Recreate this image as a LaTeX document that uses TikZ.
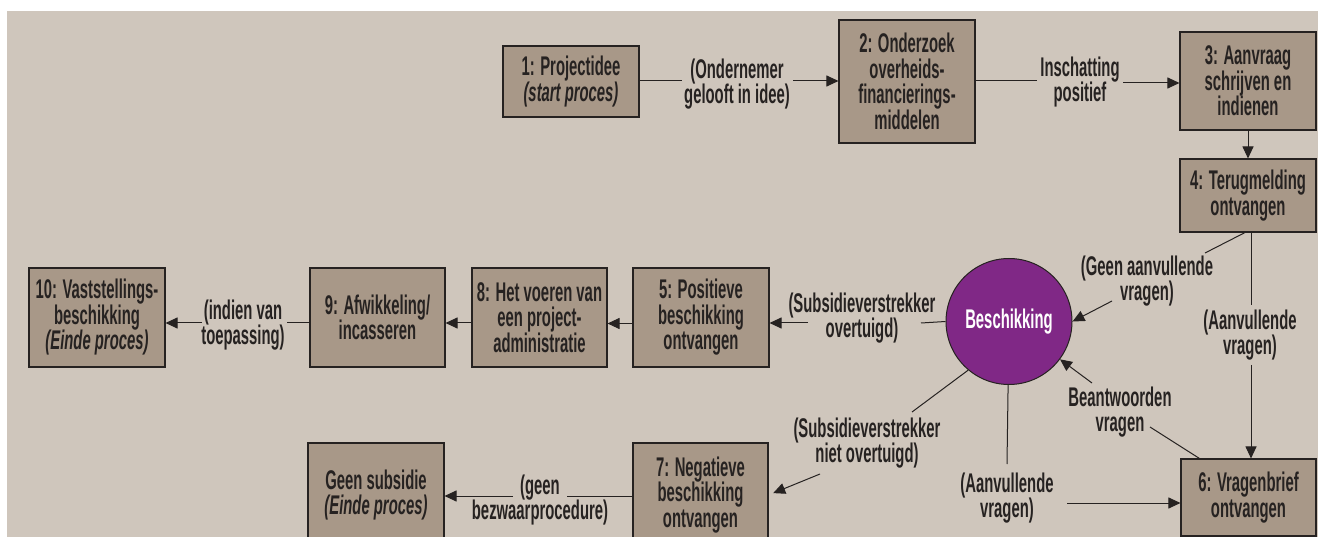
\documentclass[tikz,border=0pt]{standalone}
\usepackage{fontspec}
\setmainfont{Liberation Sans}[FakeStretch=0.55]
\usetikzlibrary{arrows.meta,calc}
\definecolor{bgc}{RGB}{207,198,188}
\definecolor{boxc}{RGB}{168,152,136}
\definecolor{circc}{RGB}{128,40,134}
\definecolor{ink}{RGB}{38,34,33}
\begin{document}
\begin{tikzpicture}[x=1pt,y=-1pt,
  font=\fontsize{27}{25.5}\selectfont\bfseries,
  box/.style={draw=ink, line width=1.1pt, fill=boxc, text=ink, align=center, minimum width=136pt, inner sep=0pt},
  lbl/.style={text=ink, align=center, inner sep=0pt},
  con/.style={draw=ink, line width=1pt},
  arr/.style={con, -{Triangle[length=12pt,width=11pt]}}]
\useasboundingbox (0,0) rectangle (1318,537);
\clip (0,0) rectangle (1318,537);
\fill[white] (0,0) rectangle (1318,537);
\fill[bgc] (7,11) rectangle (1318,537);

% boxes
\node[box, minimum height=71pt] (b1) at (571,81.5) {1: Projectidee\\\textit{(start proces)}};
\node[box, minimum height=123pt] (b2) at (907,81.5) {2: Onderzoek\\overheids-\\financierings-\\middelen};
\node[box, minimum height=98pt] (b3) at (1248,81) {3: Aanvraag\\schrijven en\\indienen};
\node[box, minimum height=73pt] (b4) at (1248,195.5) {4: Terugmelding\\ontvangen};
\node[box, minimum width=135pt, minimum height=77pt] (b6) at (1248.5,497.5) {6: Vragenbrief\\ontvangen};
\node[box, minimum height=99pt] (b5) at (701,317.5) {5: Positieve\\beschikking\\ontvangen};
\node[box, minimum width=135pt, minimum height=99pt] (b8) at (539.5,317.5) {8: Het voeren van\\een project-\\administratie};
\node[box, minimum width=135pt, minimum height=99pt] (b9) at (377.5,317.5) {9: Afwikkeling/\\incasseren};
\node[box, minimum height=99pt] (b10) at (97,317.5) {10: Vaststellings-\\beschikking\\\textit{(Einde proces)}};
\node[box, minimum width=135pt, minimum height=104pt] (b7) at (700.5,495) {7: Negatieve\\beschikking\\ontvangen};
\node[box, minimum height=104pt] (bg) at (376,495) {Geen subsidie\\\textit{(Einde proces)}};
\node[circle, draw=ink, line width=1pt, fill=circc, minimum size=126pt, inner sep=0pt, text=white] (circ) at (1009,321.5) {Beschikking};

% labels
\node[lbl] (l12) at (737,84) {(Ondernemer\\gelooft in idee)};
\node[lbl] (l23) at (1080,82) {Inschatting\\positief};
\node[lbl] (lg4) at (1147,281) {(Geen aanvullende\\vragen)};
\node[lbl] (lv4) at (1250,335) {(Aanvullende\\vragen)};
\node[lbl] (lq6) at (1120,412) {Beantwoorden\\vragen};
\node[lbl] (lc6) at (1007,498) {(Aanvullende\\vragen)};
\node[lbl] (lc7) at (867,443) {(Subsidieverstrekker\\niet overtuigd)};
\node[lbl] (lc5) at (862,318) {(Subsidieverstrekker\\overtuigd)};
\node[lbl] (l910) at (243,325) {(indien van\\toepassing)};
\node[lbl] (l7g) at (540,500) {(geen\\bezwaarprocedure)};

% gap ends of the connectors
\coordinate (l12a) at (682,81);  \coordinate (l12b) at (793,81);
\coordinate (l23a) at (1037,81); \coordinate (l23b) at (1123,83);
\coordinate (g4a) at (1205,253); \coordinate (g4b) at (1112,301);
\coordinate (v4a) at (1251,305); \coordinate (v4b) at (1251,365);
\coordinate (q6a) at (1150,427); \coordinate (q6b) at (1092,383);
\coordinate (c6a) at (1007,464); \coordinate (c6b) at (1067,503);
\coordinate (c7a) at (912,412);  \coordinate (c7b) at (820,474);
\coordinate (c5a) at (921,323);  \coordinate (c5b) at (808,323);
\coordinate (t9a) at (287,323);  \coordinate (t9b) at (202,323);
\coordinate (n7a) at (567,496);  \coordinate (n7b) at (513,496);

% connectors
\draw[con] (l12a -| b1.east) -- (l12a);
\draw[arr] (l12b) -- (l12b -| b2.west);
\draw[con] (l23a -| b2.east) -- (l23a);
\draw[arr] (l23b) -- (l23b -| b3.west);
\draw[arr] (b3) -- (b4);
\draw[con] ($(b4.south)+(-3,0)$) -- (g4a);
\draw[arr] (g4b) -- (circ.east);
\draw[con] (v4a |- b4.south) -- (v4a);
\draw[arr] (v4b) -- (v4b |- b6.north);
\draw[con] ($(b6.north west)+(19,0)$) -- (q6a);
\draw[arr] (q6b) -- (circ);
\draw[con] (circ) -- (c6a);
\draw[arr] (c6b) -- (c6b -| b6.west);
\draw[con] (circ.230) -- (c7a);
\draw[arr, shorten >=5pt] (c7b) -- (b7.east);
\draw[con] (circ.west) -- (c5a);
\draw[arr] (c5b) -- (c5b -| b5.east);
\draw[arr] ($(b5.west)+(0,6)$) -- ($(b8.east)+(0,6)$);
\draw[arr] ($(b8.west)+(0,5.5)$) -- ($(b9.east)+(0,5.5)$);
\draw[con] (t9a -| b9.west) -- (t9a);
\draw[arr] (t9b) -- (t9b -| b10.east);
\draw[con] (n7a -| b7.west) -- (n7a);
\draw[arr] (n7b) -- (n7b -| bg.east);
\end{tikzpicture}
\end{document}
